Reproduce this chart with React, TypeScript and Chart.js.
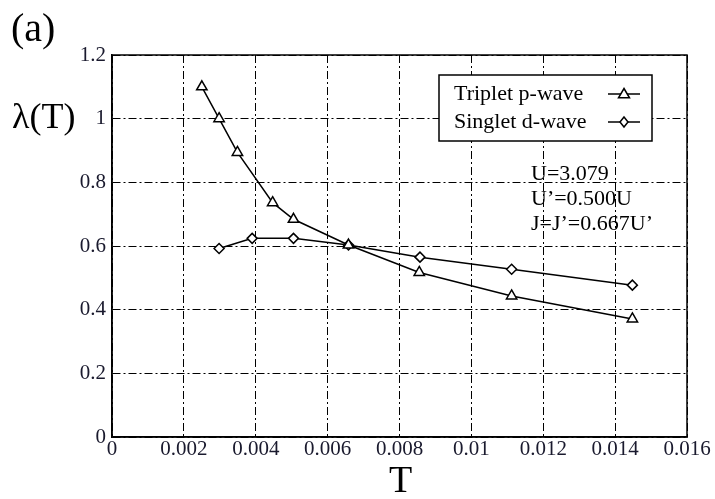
import React, { useEffect, useRef } from "react";
import { Chart, registerables } from "chart.js";

Chart.register(...registerables);

const tripletT = [0.0025, 0.00298, 0.00349, 0.00447, 0.00505, 0.00658, 0.00855, 0.01112, 0.01448];
const tripletL = [1.1, 1.0, 0.894, 0.736, 0.684, 0.603, 0.517, 0.443, 0.371];
const singletT = [0.00298, 0.0039, 0.00505, 0.00658, 0.00857, 0.01112, 0.01448];
const singletL = [0.592, 0.624, 0.624, 0.603, 0.565, 0.527, 0.477];
const seriesNames = ["Triplet p-wave", "Singlet d-wave"];
const paramLines = ["U=3.079", "U\u2019=0.500U", "J=J\u2019=0.667U\u2019"];
const xTicks = [0, 0.002, 0.004, 0.006, 0.008, 0.01, 0.012, 0.014, 0.016];
const yTicks = [0, 0.2, 0.4, 0.6, 0.8, 1, 1.2];

const SERIF = "'Liberation Serif', 'Times New Roman', serif";
const DASH = [8, 3, 2, 3];

function drawMarker(ctx: CanvasRenderingContext2D, style: string, x: number, y: number, r: number) {
  ctx.save();
  ctx.beginPath();
  if (style === "triangle") {
    const s = r * 1.1;
    ctx.moveTo(x, y - s);
    ctx.lineTo(x + s, y + s * 0.7);
    ctx.lineTo(x - s, y + s * 0.7);
    ctx.closePath();
  } else {
    ctx.moveTo(x, y - r);
    ctx.lineTo(x + r * 0.8, y);
    ctx.lineTo(x, y + r);
    ctx.lineTo(x - r * 0.8, y);
    ctx.closePath();
  }
  ctx.fillStyle = "#fff";
  ctx.fill();
  ctx.strokeStyle = "#000";
  ctx.lineWidth = 1.5;
  ctx.stroke();
  ctx.restore();
}

const textPlugin = {
  id: "texts",
  afterDraw(chart: any) {
    const ctx = chart.ctx as CanvasRenderingContext2D;
    const area = chart.chartArea;
    ctx.save();
    ctx.fillStyle = "#000";
    ctx.textBaseline = "middle";
    ctx.textAlign = "left";
    ctx.font = `40px ${SERIF}`;
    ctx.fillText("(a)", 11, 30);
    ctx.font = `36px ${SERIF}`;
    ctx.fillText("\u03bb(T)", 12, 119);
    ctx.font = `38px ${SERIF}`;
    ctx.textAlign = "center";
    ctx.fillText("T", (area.left + area.right) / 2 + 1, 482);

    ctx.font = `22px ${SERIF}`;
    ctx.textAlign = "left";
    paramLines.forEach((s, i) => ctx.fillText(s, 531, 174 + i * 25));

    const lx = 439, ly = 75, lw = 213, lh = 66;
    ctx.fillStyle = "#fff";
    ctx.fillRect(lx, ly, lw, lh);
    ctx.strokeStyle = "#000";
    ctx.lineWidth = 1.5;
    ctx.strokeRect(lx, ly, lw, lh);
    ctx.font = `22px ${SERIF}`;
    const styles = ["triangle", "rectRot"];
    seriesNames.forEach((name, i) => {
      const y = 94 + i * 28;
      ctx.fillStyle = "#000";
      ctx.fillText(name, 454, y);
      ctx.beginPath();
      ctx.moveTo(608, y);
      ctx.lineTo(640, y);
      ctx.lineWidth = 1.5;
      ctx.strokeStyle = "#000";
      ctx.stroke();
      drawMarker(ctx, styles[i], 624, y, 5);
    });
    ctx.restore();
  },
};

export default function App() {
  const ref = useRef<HTMLCanvasElement>(null);
  useEffect(() => {
    if (!ref.current) return;
    const mk = (xs: number[], ys: number[]) => xs.map((x, i) => ({ x, y: ys[i] }));
    const chart = new Chart(ref.current, {
      type: "scatter",
      data: {
        datasets: [
          {
            label: seriesNames[0],
            data: mk(tripletT, tripletL),
            showLine: true,
            borderColor: "#000",
            borderWidth: 1.5,
            pointStyle: "triangle",
            pointRadius: 6,
            pointBackgroundColor: "#fff",
            pointBorderColor: "#000",
            pointBorderWidth: 1.5,
          },
          {
            label: seriesNames[1],
            data: mk(singletT, singletL),
            showLine: true,
            borderColor: "#000",
            borderWidth: 1.5,
            pointStyle: "rectRot",
            pointRadius: 5,
            pointBackgroundColor: "#fff",
            pointBorderColor: "#000",
            pointBorderWidth: 1.5,
          },
        ],
      },
      options: {
        animation: false,
        responsive: false,
        devicePixelRatio: 1,
        layout: { padding: { left: 0, top: 55, right: 28, bottom: 0 } },
        plugins: { legend: { display: false }, tooltip: { enabled: false } },
        scales: {
          x: {
            type: "linear",
            min: 0,
            max: 0.016,
            afterFit: (s: any) => { s.height = 62; },
            afterBuildTicks: (s: any) => { s.ticks = xTicks.map((v) => ({ value: v })); },
            ticks: {
              padding: 0,
              color: "#1a1a2e",
              font: { family: SERIF, size: 21 },
              callback: (v: any) => String(Number(Number(v).toFixed(4))),
            },
            border: { display: true, color: "#000", width: 1.5, dash: DASH } as any,
            grid: { color: "#000", lineWidth: 1, drawTicks: false },
          },
          y: {
            min: 0,
            max: 1.2,
            afterFit: (s: any) => { s.width = 112; },
            afterBuildTicks: (s: any) => { s.ticks = yTicks.map((v) => ({ value: v })); },
            ticks: {
              padding: 6,
              color: "#1a1a2e",
              font: { family: SERIF, size: 21 },
              callback: (v: any) => String(Number(Number(v).toFixed(1))),
            },
            border: { display: true, color: "#000", width: 1.5, dash: DASH } as any,
            grid: { color: "#000", lineWidth: 1, drawTicks: false },
          },
        },
      },
      plugins: [
        {
          id: "frame",
          beforeDatasetsDraw(chart: any) {
            const { ctx, chartArea: a } = chart;
            ctx.save();
            ctx.setLineDash([]);
            ctx.strokeStyle = "#000";
            ctx.lineWidth = 1.5;
            ctx.strokeRect(a.left, a.top, a.right - a.left, a.bottom - a.top);
            ctx.restore();
          },
        },
        textPlugin,
      ],
    });
    return () => chart.destroy();
  }, []);
  return (
    <div style={{ position: "fixed", left: 0, top: 0, width: 715, height: 499, background: "#fff" }}>
      <canvas ref={ref} width={715} height={499} style={{ width: 715, height: 499, display: "block" }} />
    </div>
  );
}
